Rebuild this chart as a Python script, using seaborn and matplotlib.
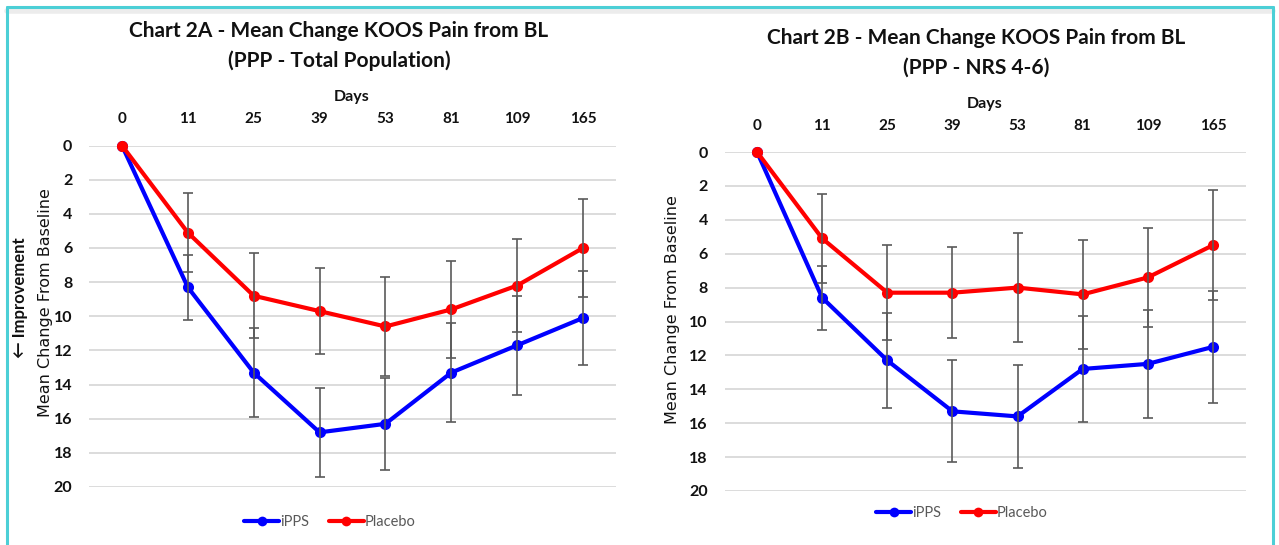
import numpy as np
import pandas as pd
import matplotlib
matplotlib.use('Agg')
import matplotlib.pyplot as plt
from matplotlib.lines import Line2D
import seaborn as sns

days = ['0', '11', '25', '39', '53', '81', '109', '165']

# Chart 2A - total population
a_ipps = [0, 8.3, 13.3, 16.8, 16.3, 13.3, 11.7, 10.1]
a_ipps_err = [0, 1.9, 2.6, 2.6, 2.7, 2.9, 2.9, 2.75]
a_placebo = [0, 5.1, 8.8, 9.7, 10.6, 9.6, 8.2, 6.0]
a_placebo_err = [0, 2.3, 2.5, 2.5, 2.9, 2.85, 2.7, 2.85]

# Chart 2B - NRS 4-6
b_ipps = [0, 8.6, 12.3, 15.3, 15.6, 12.8, 12.5, 11.5]
b_ipps_err = [0, 1.9, 2.8, 3.0, 3.05, 3.15, 3.2, 3.3]
b_placebo = [0, 5.1, 8.3, 8.3, 8.0, 8.4, 7.4, 5.5]
b_placebo_err = [0, 2.6, 2.8, 2.7, 3.2, 3.2, 2.9, 3.25]

groups = ['iPPS', 'Placebo']
colors = {'iPPS': '#0000FF', 'Placebo': '#FF0000'}

W, H = 1279, 545
sns.set_style('white')
plt.rcParams['font.family'] = ['Lato', 'DejaVu Sans']

fig = plt.figure(figsize=(W / 100, H / 100), dpi=100)


def px(x, y):
    # pixel coords (top-left origin) -> figure fraction
    return x / W, 1 - y / H


def make_df(ipps, ipps_err, placebo, placebo_err):
    rows = []
    for g, vals, errs in [('iPPS', ipps, ipps_err), ('Placebo', placebo, placebo_err)]:
        for i, d in enumerate(days):
            rows.append({'pos': i, 'Day': d, 'group': g, 'value': vals[i], 'err': errs[i]})
    return pd.DataFrame(rows)


def draw_panel(rect, df, legend_xy):
    ax = fig.add_axes(rect)
    sns.lineplot(data=df, x='pos', y='value', hue='group', hue_order=groups,
                 palette=colors, marker='o', markersize=8, markeredgewidth=0,
                 linewidth=3, ax=ax, legend=False, clip_on=False, zorder=3)
    for g in groups:
        sub = df[(df['group'] == g) & (df['err'] > 0)]
        ax.errorbar(sub['pos'], sub['value'], yerr=sub['err'], fmt='none',
                    ecolor='#5a5a5a', elinewidth=1.2, capsize=3.5, capthick=1.2,
                    zorder=4)
    ax.set_xlim(-0.5, 7.5)
    ax.set_ylim(20, 0)
    ax.set_yticks(range(0, 21, 2))
    ax.set_xticks(range(len(days)))
    ax.set_xticklabels(days)
    ax.xaxis.tick_top()
    ax.tick_params(axis='x', length=0, pad=14, labelsize=11)
    ax.tick_params(axis='y', length=0, pad=12, labelsize=11.5)
    for lab in ax.get_xticklabels() + ax.get_yticklabels():
        lab.set_fontweight('bold')
        lab.set_color('#111111')
    ax.grid(axis='y', color='#d9d9d9', linewidth=1.3)
    ax.set_axisbelow(True)
    sns.despine(ax=ax, left=True, bottom=True, top=True, right=True)
    ax.set_xlabel('')
    ax.set_ylabel('')

    handles = [Line2D([], [], color=colors[g], marker='o', markersize=7, lw=3,
                      markeredgewidth=0) for g in groups]
    fx, fy = px(*legend_xy)
    leg = fig.legend(handles, groups, loc='center', bbox_to_anchor=(fx, fy),
                     ncol=2, frameon=False, fontsize=10.5, handlelength=2.4,
                     handletextpad=0.1, columnspacing=1.3)
    for t in leg.get_texts():
        t.set_color('#595959')
    return ax


def axrect(x0, x1, ytop, ybot):
    return [x0 / W, 1 - ybot / H, (x1 - x0) / W, (ybot - ytop) / H]


draw_panel(axrect(89, 616, 145.5, 487),
           make_df(a_ipps, a_ipps_err, a_placebo, a_placebo_err), (330, 522))
draw_panel(axrect(724.5, 1245.5, 152, 491),
           make_df(b_ipps, b_ipps_err, b_placebo, b_placebo_err), (962, 513))

title_kw = dict(ha='center', va='center', fontsize=15, fontweight='bold', color='#111111')
fig.text(*px(339, 31), 'Chart 2A - Mean Change KOOS Pain from BL', **title_kw)
fig.text(*px(339, 61), '(PPP - Total Population)', **title_kw)
fig.text(*px(976, 38), 'Chart 2B - Mean Change KOOS Pain from BL', **title_kw)
fig.text(*px(976, 68), '(PPP - NRS 4-6)', **title_kw)

days_kw = dict(ha='center', va='center', fontsize=11.5, fontweight='bold', color='#111111')
fig.text(*px(352, 97), 'Days', **days_kw)
fig.text(*px(985, 104), 'Days', **days_kw)

ylab_kw = dict(ha='center', va='center', rotation=90, fontsize=11.5,
               family='DejaVu Sans', color='#111111')
fig.text(*px(46, 303), 'Mean Change From Baseline', **ylab_kw)
fig.text(*px(672, 310), 'Mean Change From Baseline', **ylab_kw)
fig.text(*px(20, 298), '\u2190 Improvement', ha='center', va='center', rotation=90,
         fontsize=12, fontweight='bold', color='#111111', family=['Lato', 'DejaVu Sans'])

# teal frame around the whole graphic, with a faint shadow under the top edge
fig.add_artist(Line2D([7 / W, 1273 / W], [1 - 11 / H, 1 - 11 / H], color='#ececec',
                      lw=4, transform=fig.transFigure))
border = '#4ccfd6'
for xs, ys in [([7, 1273], [7, 7]), ([7, 7], [7, 560]), ([1273, 1273], [7, 560])]:
    fig.add_artist(Line2D([x / W for x in xs], [1 - y / H for y in ys],
                          color=border, lw=2.2, transform=fig.transFigure))

fig.savefig('out.png', dpi=100)
